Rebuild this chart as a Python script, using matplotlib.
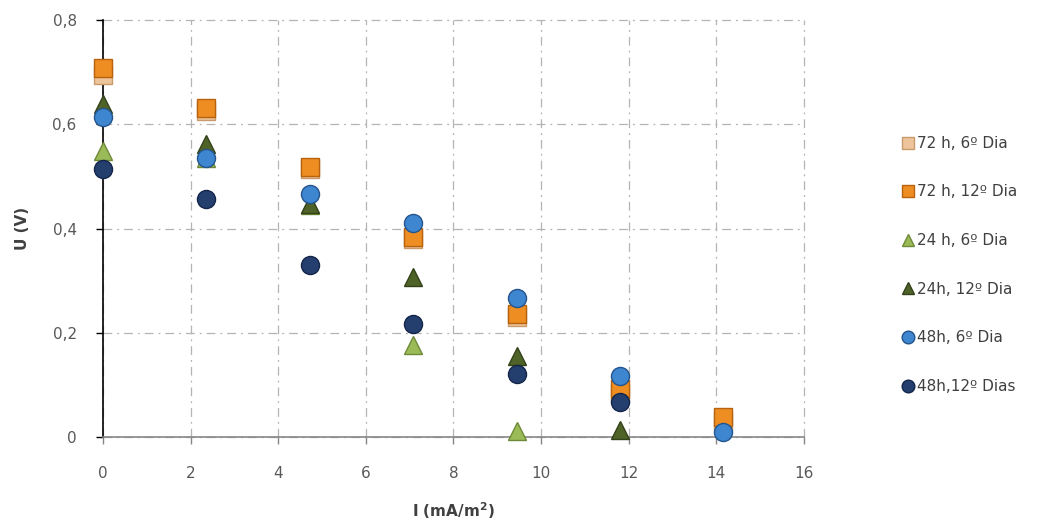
import numpy as np
import matplotlib.pyplot as plt
from matplotlib.ticker import FuncFormatter

# current density steps (mA/m2)
I_72h_6 = [0, 2.36, 4.72, 7.08, 9.44, 11.8, 14.16]
U_72h_6 = [0.695, 0.625, 0.515, 0.38, 0.23, 0.085, 0.03]

I_72h_12 = [0, 2.36, 4.72, 7.08, 9.44, 11.8, 14.16]
U_72h_12 = [0.708, 0.631, 0.518, 0.384, 0.237, 0.092, 0.038]

I_24h_6 = [0, 2.36, 4.72, 7.08, 9.44]
U_24h_6 = [0.548, 0.535, 0.445, 0.176, 0.012]

I_24h_12 = [0, 2.36, 4.72, 7.08, 9.44, 11.8]
U_24h_12 = [0.64, 0.562, 0.448, 0.307, 0.155, 0.013]

I_48h_6 = [0, 2.36, 4.72, 7.08, 9.44, 11.8, 14.16]
U_48h_6 = [0.615, 0.536, 0.467, 0.41, 0.267, 0.117, 0.01]

I_48h_12 = [0, 2.36, 4.72, 7.08, 9.44, 11.8]
U_48h_12 = [0.515, 0.456, 0.331, 0.217, 0.121, 0.067]

labels = ["72 h, 6º Dia", "72 h, 12º Dia", "24 h, 6º Dia",
          "24h, 12º Dia", "48h, 6º Dia", "48h,12º Dias"]

series = [
    (I_72h_6, U_72h_6, 's', '#EDC49C', '#C89A6C', 13),
    (I_72h_12, U_72h_12, 's', '#EE8E22', '#B8620E', 13),
    (I_24h_6, U_24h_6, '^', '#9BBB59', '#6E8A38', 13),
    (I_24h_12, U_24h_12, '^', '#4F6228', '#34421A', 13),
    (I_48h_6, U_48h_6, 'o', '#3F86D0', '#24548C', 13),
    (I_48h_12, U_48h_12, 'o', '#243F6E', '#14254A', 13),
]

fig = plt.figure(figsize=(10.62, 5.31), dpi=100)
ax = fig.add_axes([0.097, 0.177, 0.66, 0.785])

for (x, y, m, fc, ec, ms), lab in zip(series, labels):
    ax.plot(x, y, linestyle='none', marker=m, markersize=ms,
            markerfacecolor=fc, markeredgecolor=ec, markeredgewidth=1.0,
            label=lab, clip_on=False, zorder=3)

ax.set_xlim(0, 16)
ax.set_ylim(0, 0.8)
ax.set_xticks(np.arange(0, 17, 2))
ax.set_yticks(np.arange(0, 0.81, 0.2))
ax.yaxis.set_major_formatter(FuncFormatter(lambda v, p: '0' if v == 0 else f"{v:.1f}".replace('.', ',')))

ax.grid(True, color='#B4B4B4', linestyle='-.', linewidth=0.9, dashes=(7, 4, 1.5, 4))
ax.set_axisbelow(True)
for gl in ax.get_xgridlines() + ax.get_ygridlines():
    gl.set_clip_on(False)

for s in ['top', 'right']:
    ax.spines[s].set_visible(False)
ax.spines['left'].set_color('#000000')
ax.spines['left'].set_linewidth(1.2)
ax.spines['bottom'].set_color('#868686')
ax.spines['bottom'].set_linewidth(1.2)

ax.tick_params(axis='y', direction='out', length=5, width=1, color='#000000',
               labelsize=11, labelcolor='#595959', pad=14)
ax.tick_params(axis='x', direction='out', length=5, width=1, color='#868686',
               labelsize=11, labelcolor='#595959', pad=16)

ax.set_xlabel('I (mA/m$^\\mathbf{2}$)', fontsize=11, fontweight='bold', color='#404040', labelpad=14)
ax.set_ylabel('U (V)', fontsize=11, fontweight='bold', color='#404040', labelpad=16)

fig.legend(loc='upper left', bbox_to_anchor=(0.835, 0.77), frameon=False,
           fontsize=11, labelspacing=2.2, handletextpad=0.05,
           handlelength=1.0, markerscale=0.7, labelcolor='#404040')

fig.savefig('out.png', dpi=100)
